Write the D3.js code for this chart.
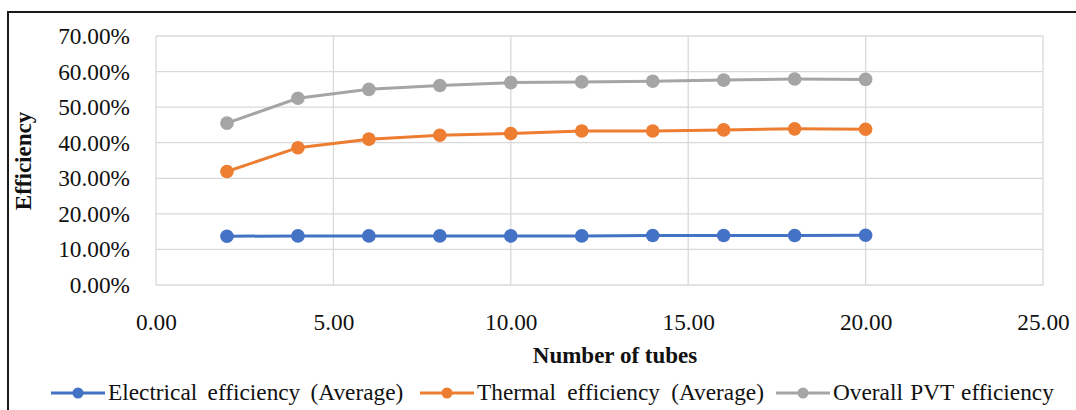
<!DOCTYPE html>
<html>
<head>
<meta charset="utf-8">
<script src="https://cdn.jsdelivr.net/npm/d3@7"></script>
<style>
  body { margin: 0; background: #fff; }
  svg text { font-family: 'Liberation Serif', 'Times New Roman', Tinos, 'DejaVu Serif', serif; }
</style>
</head>
<body>
<svg id="chart"></svg>
<script>
// data
var tubes = [2, 4, 6, 8, 10, 12, 14, 16, 18, 20];
var electrical = [0.137, 0.138, 0.138, 0.138, 0.138, 0.138, 0.139, 0.139, 0.139, 0.140];
var thermal = [0.319, 0.386, 0.410, 0.421, 0.426, 0.433, 0.433, 0.436, 0.439, 0.438];
var overall = [0.455, 0.525, 0.550, 0.561, 0.569, 0.571, 0.573, 0.576, 0.579, 0.578];
var seriesNames = ['Electrical efficiency (Average)', 'Thermal efficiency (Average)', 'Overall PVT efficiency'];
var seriesColors = ['#4472C4', '#ED7D31', '#A5A5A5'];
var xTicks = [0, 5, 10, 15, 20, 25];
var yTicks = [0, 0.1, 0.2, 0.3, 0.4, 0.5, 0.6, 0.7];

var W = 1076, H = 410;
var plot = { left: 156, right: 1043, top: 36, bottom: 285 };
var font = "'Liberation Serif', 'Times New Roman', Tinos, 'DejaVu Serif', serif";

var svg = d3.select('#chart')
  .attr('width', W)
  .attr('height', H);

// outer frame (only top and left edges show)
svg.append('line')
  .attr('x1', 7).attr('x2', W).attr('y1', 12).attr('y2', 12)
  .attr('stroke', '#1a1a1a').attr('stroke-width', 2);
svg.append('line')
  .attr('x1', 8).attr('x2', 8).attr('y1', 12).attr('y2', H)
  .attr('stroke', '#1a1a1a').attr('stroke-width', 2);

var x = d3.scaleLinear().domain([0, 25]).range([plot.left, plot.right]);
var y = d3.scaleLinear().domain([0, 0.7]).range([plot.bottom, plot.top]);

// gridlines
svg.append('g')
  .selectAll('line.h')
  .data(yTicks)
  .enter()
  .append('line')
    .attr('x1', plot.left).attr('x2', plot.right)
    .attr('y1', d => y(d)).attr('y2', d => y(d))
    .attr('stroke', '#d9d9d9').attr('stroke-width', 1.3);
svg.append('g')
  .selectAll('line.v')
  .data(xTicks)
  .enter()
  .append('line')
    .attr('y1', plot.top).attr('y2', plot.bottom)
    .attr('x1', d => x(d)).attr('x2', d => x(d))
    .attr('stroke', '#d9d9d9').attr('stroke-width', 1.3);

// y axis labels
var yAxis = d3.axisLeft(y)
  .tickValues(yTicks)
  .tickFormat(d3.format('.2%'))
  .tickSize(0)
  .tickPadding(26);
var gy = svg.append('g')
  .attr('transform', 'translate(' + plot.left + ',0)')
  .call(yAxis)
  .attr('font-family', font)
  .attr('font-size', 23.3);
gy.select('.domain').remove();
gy.selectAll('text').attr('fill', '#111');

// x axis labels
var xAxis = d3.axisBottom(x)
  .tickValues(xTicks)
  .tickFormat(d3.format('.2f'))
  .tickSize(0)
  .tickPadding(28);
var gx = svg.append('g')
  .attr('transform', 'translate(0,' + plot.bottom + ')')
  .call(xAxis)
  .attr('font-family', font)
  .attr('font-size', 23.3);
gx.select('.domain').remove();
gx.selectAll('text').attr('fill', '#111');

// axis titles
svg.append('text')
  .attr('x', 615)
  .attr('y', 363)
  .attr('text-anchor', 'middle')
  .attr('font-size', 23)
  .attr('font-weight', 'bold')
  .attr('fill', '#111')
  .text('Number of tubes');

svg.append('text')
  .attr('transform', 'translate(31,161) rotate(-90)')
  .attr('text-anchor', 'middle')
  .attr('font-size', 23)
  .attr('font-weight', 'bold')
  .attr('fill', '#111')
  .text('Efficiency');

// series
var allSeries = [electrical, thermal, overall];
var line = d3.line()
  .x((d, i) => x(tubes[i]))
  .y(d => y(d));

allSeries.forEach(function(vals, k) {
  var g = svg.append('g');
  g.append('path')
    .datum(vals)
    .attr('d', line)
    .attr('fill', 'none')
    .attr('stroke', seriesColors[k])
    .attr('stroke-width', 3);
  g.selectAll('circle')
    .data(vals)
    .enter()
    .append('circle')
      .attr('cx', (d, i) => x(tubes[i]))
      .attr('cy', d => y(d))
      .attr('r', 6.8)
      .attr('fill', seriesColors[k]);
});

// legend
var legendX = [51, 420, 776];
var wordGap = [4.5, 5.5, 1.5];
var legend = svg.append('g');
seriesNames.forEach(function(name, k) {
  var lx = legendX[k];
  legend.append('line')
    .attr('x1', lx).attr('x2', lx + 54)
    .attr('y1', 393).attr('y2', 393)
    .attr('stroke', seriesColors[k]).attr('stroke-width', 3);
  legend.append('circle')
    .attr('cx', lx + 27).attr('cy', 393).attr('r', 5.5)
    .attr('fill', seriesColors[k]);
  legend.append('text')
    .attr('x', lx + 57)
    .attr('y', 400)
    .attr('font-size', 23.3)
    .style('word-spacing', wordGap[k] + 'px')
    .attr('fill', '#111')
    .text(name);
});
</script>
</body>
</html>
